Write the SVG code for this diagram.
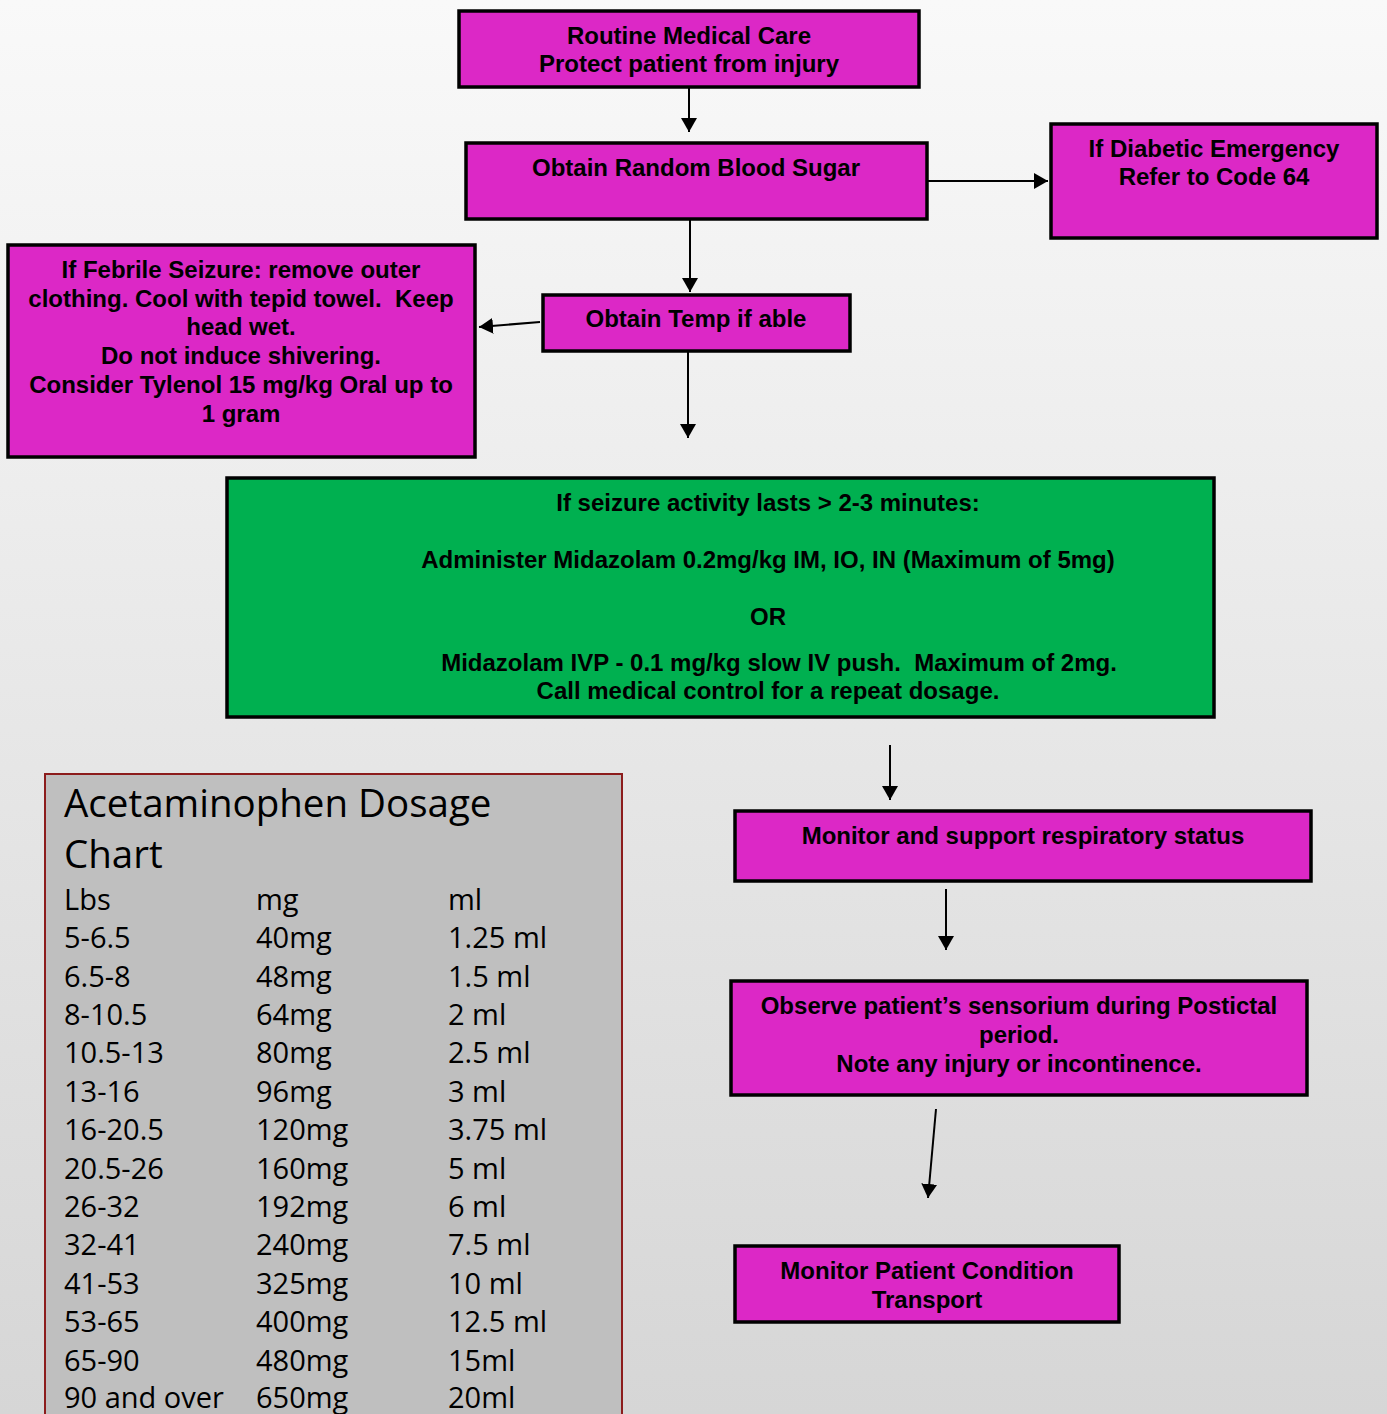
<svg xmlns="http://www.w3.org/2000/svg" width="1387" height="1414" viewBox="0 0 1387 1414">
  <defs>
    <linearGradient id="bg" x1="0" y1="0" x2="0" y2="1">
      <stop offset="0" stop-color="#f9f9f9"/>
      <stop offset="1" stop-color="#d6d6d6"/>
    </linearGradient>
    <marker id="arrow" markerWidth="8" markerHeight="8" refX="7" refY="4" orient="auto" markerUnits="strokeWidth">
      <path d="M0,0 L7,4 L0,8 Z" fill="#000"/>
    </marker>
  </defs>
  <style>
    .box { fill: #dc28c6; stroke: #000; stroke-width: 3.5; }
    .green { fill: #00b050; stroke: #000; stroke-width: 3.5; }
    .lbl { font-family: "Liberation Sans", Arial, sans-serif; font-weight: bold; font-size: 24px; fill: #000; text-anchor: middle; white-space: pre; }
    .conn line { stroke: #000; stroke-width: 2; marker-end: url(#arrow); }
    .chart { fill: #bfbfbf; stroke: #8c1c1c; stroke-width: 2; }
    .ctitle { font-family: "Open Sans", Roboto, sans-serif; font-weight: 500; font-size: 38.5px; fill: #000; }
    .crow { font-family: "Open Sans", Roboto, sans-serif; font-weight: 500; font-size: 29px; fill: #000; }
  </style>

  <rect width="1387" height="1414" fill="url(#bg)"/>

  <g class="conn" id="connectors">
    <line x1="689" y1="88" x2="689" y2="132"/>
    <line x1="928" y1="181" x2="1048" y2="181"/>
    <line x1="690" y1="220" x2="690" y2="292"/>
    <line x1="540" y1="322" x2="479" y2="327"/>
    <line x1="688" y1="352" x2="688" y2="438"/>
    <line x1="890" y1="745" x2="890" y2="800"/>
    <line x1="946" y1="889" x2="946" y2="950"/>
    <line x1="936" y1="1109" x2="928" y2="1198"/>
  </g>

  <g id="routine-care">
    <rect class="box" x="459" y="11" width="460" height="76"/>
    <text class="lbl" x="689" y="44">Routine Medical Care</text>
    <text class="lbl" x="689" y="72">Protect patient from injury</text>
  </g>

  <g id="blood-sugar">
    <rect class="box" x="466" y="143" width="461" height="76"/>
    <text class="lbl" x="696" y="176">Obtain Random Blood Sugar</text>
  </g>

  <g id="diabetic">
    <rect class="box" x="1051" y="124" width="326" height="114"/>
    <text class="lbl" x="1214" y="157">If Diabetic Emergency</text>
    <text class="lbl" x="1214" y="185">Refer to Code 64</text>
  </g>

  <g id="febrile">
    <rect class="box" x="8" y="245" width="467" height="212"/>
    <text class="lbl" x="241" y="278">If Febrile Seizure: remove outer</text>
    <text class="lbl" x="241" y="307">clothing. Cool with tepid towel.  Keep</text>
    <text class="lbl" x="241" y="335">head wet.</text>
    <text class="lbl" x="241" y="364">Do not induce shivering.</text>
    <text class="lbl" x="241" y="393">Consider Tylenol 15 mg/kg Oral up to</text>
    <text class="lbl" x="241" y="422">1 gram</text>
  </g>

  <g id="temp">
    <rect class="box" x="543" y="295" width="307" height="56"/>
    <text class="lbl" x="696" y="327">Obtain Temp if able</text>
  </g>

  <g id="midazolam">
    <rect class="green" x="227" y="478" width="987" height="239"/>
    <text class="lbl" x="768" y="511">If seizure activity lasts &gt; 2-3 minutes:</text>
    <text class="lbl" x="768" y="568">Administer Midazolam 0.2mg/kg IM, IO, IN (Maximum of 5mg)</text>
    <text class="lbl" x="768" y="625">OR</text>
    <text class="lbl" x="779" y="671">Midazolam IVP - 0.1 mg/kg slow IV push.  Maximum of 2mg.</text>
    <text class="lbl" x="768" y="699">Call medical control for a repeat dosage.</text>
  </g>

  <g id="respiratory">
    <rect class="box" x="735" y="811" width="576" height="70"/>
    <text class="lbl" x="1023" y="844">Monitor and support respiratory status</text>
  </g>

  <g id="postictal">
    <rect class="box" x="731" y="981" width="576" height="114"/>
    <text class="lbl" x="1019" y="1014">Observe patient’s sensorium during Postictal</text>
    <text class="lbl" x="1019" y="1043">period.</text>
    <text class="lbl" x="1019" y="1072">Note any injury or incontinence.</text>
  </g>

  <g id="transport">
    <rect class="box" x="735" y="1246" width="384" height="76"/>
    <text class="lbl" x="927" y="1279">Monitor Patient Condition</text>
    <text class="lbl" x="927" y="1308">Transport</text>
  </g>

  <g id="dosage-chart">
    <rect class="chart" x="45" y="774" width="577" height="660"/>
    <text class="ctitle" x="64" y="817">Acetaminophen Dosage</text>
    <text class="ctitle" x="64" y="868">Chart</text>
    <g class="crow">
      <text x="64" y="910">Lbs</text><text x="256" y="910">mg</text><text x="448" y="910">ml</text>
      <text x="64" y="948">5-6.5</text><text x="256" y="948">40mg</text><text x="448" y="948">1.25 ml</text>
      <text x="64" y="987">6.5-8</text><text x="256" y="987">48mg</text><text x="448" y="987">1.5 ml</text>
      <text x="64" y="1025">8-10.5</text><text x="256" y="1025">64mg</text><text x="448" y="1025">2 ml</text>
      <text x="64" y="1063">10.5-13</text><text x="256" y="1063">80mg</text><text x="448" y="1063">2.5 ml</text>
      <text x="64" y="1102">13-16</text><text x="256" y="1102">96mg</text><text x="448" y="1102">3 ml</text>
      <text x="64" y="1140">16-20.5</text><text x="256" y="1140">120mg</text><text x="448" y="1140">3.75 ml</text>
      <text x="64" y="1179">20.5-26</text><text x="256" y="1179">160mg</text><text x="448" y="1179">5 ml</text>
      <text x="64" y="1217">26-32</text><text x="256" y="1217">192mg</text><text x="448" y="1217">6 ml</text>
      <text x="64" y="1255">32-41</text><text x="256" y="1255">240mg</text><text x="448" y="1255">7.5 ml</text>
      <text x="64" y="1294">41-53</text><text x="256" y="1294">325mg</text><text x="448" y="1294">10 ml</text>
      <text x="64" y="1332">53-65</text><text x="256" y="1332">400mg</text><text x="448" y="1332">12.5 ml</text>
      <text x="64" y="1371">65-90</text><text x="256" y="1371">480mg</text><text x="448" y="1371">15ml</text>
      <text x="64" y="1408">90 and over</text><text x="256" y="1408">650mg</text><text x="448" y="1408">20ml</text>
    </g>
  </g>
</svg>
